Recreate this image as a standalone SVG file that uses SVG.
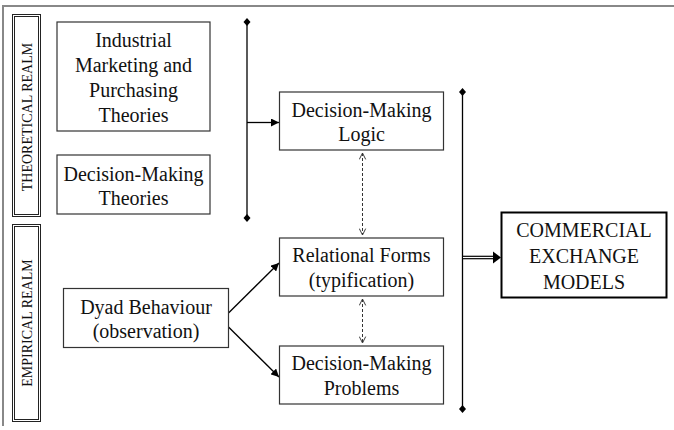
<svg xmlns="http://www.w3.org/2000/svg" width="674" height="430" viewBox="0 0 674 430">
  <style>
    .box { fill: #fff; stroke: #333; stroke-width: 1.2; }
    .bold { fill: #fff; stroke: #000; stroke-width: 2; }
    .realm { fill: none; stroke: #222; stroke-width: 1; }
    .frame { fill: none; stroke: #888; stroke-width: 2; }
    text { font-family: "Liberation Serif", "DejaVu Serif", serif; fill: #111; text-anchor: middle; }
    .lbl { font-size: 20px; }
    .rlbl { font-size: 14px; }
    .line { stroke: #000; stroke-width: 1.3; fill: none; }
    .dash { stroke: #333; stroke-width: 1; stroke-dasharray: 3 2; fill: none; }
    .dot { fill: #000; }
  </style>
  <defs>
    <marker id="tri" viewBox="0 0 10 10" refX="10" refY="5" markerWidth="8" markerHeight="8" markerUnits="userSpaceOnUse" orient="auto">
      <path d="M0,0 L10,5 L0,10 Z" fill="#000"/>
    </marker>
    <marker id="vee" viewBox="0 0 10 10" refX="9" refY="5" markerWidth="8" markerHeight="8" markerUnits="userSpaceOnUse" orient="auto-start-reverse">
      <path d="M1,1 L9,5 L1,9" fill="none" stroke="#333" stroke-width="1.2"/>
    </marker>
    <path id="diamond" d="M0,-4 L3.5,0 L0,4 L-3.5,0 Z"/>
  </defs>

  <!-- page frame -->
  <path class="frame" d="M3,426 L3,6 L674,6"/>

  <!-- realm side labels -->
  <g id="theoretical-realm">
    <rect class="realm" x="12.5" y="14.5" width="28" height="202"/>
    <rect class="realm" x="14.5" y="16.5" width="24" height="198"/>
    <text class="rlbl" font-family="Liberation Serif, serif" transform="translate(32,117) rotate(-90)">THEORETICAL REALM</text>
  </g>
  <g id="empirical-realm">
    <rect class="realm" x="12.5" y="224.5" width="28" height="197"/>
    <rect class="realm" x="14.5" y="226.5" width="24" height="193"/>
    <text class="rlbl" font-family="Liberation Serif, serif" transform="translate(32,323) rotate(-90)">EMPIRICAL REALM</text>
  </g>

  <!-- connectors -->
  <g id="connectors">
    <!-- bracket joining the theory boxes -->
    <line class="line" x1="247" y1="22" x2="247" y2="218"/>
    <use href="#diamond" x="247" y="22" class="dot"/>
    <use href="#diamond" x="247" y="218" class="dot"/>
    <line class="line" x1="247" y1="122.5" x2="279" y2="122.5" marker-end="url(#tri)"/>

    <!-- dashed two-way links -->
    <line class="dash" x1="362.5" y1="153" x2="362.5" y2="235" marker-start="url(#vee)" marker-end="url(#vee)"/>
    <line class="dash" x1="362.5" y1="299" x2="362.5" y2="343" marker-start="url(#vee)" marker-end="url(#vee)"/>

    <!-- dyad behaviour arrows -->
    <line class="line" x1="228.5" y1="313" x2="279" y2="263" marker-end="url(#tri)"/>
    <line class="line" x1="228.5" y1="327" x2="279" y2="377" marker-end="url(#tri)"/>

    <!-- bracket joining the middle column -->
    <line class="line" x1="462.5" y1="92" x2="462.5" y2="409"/>
    <use href="#diamond" x="462.5" y="92" class="dot"/>
    <use href="#diamond" x="462.5" y="409" class="dot"/>

    <!-- double-line arrow to the result -->
    <line x1="463" y1="257.5" x2="494" y2="257.5" stroke="#000" stroke-width="3.6"/>
    <line x1="463" y1="257.5" x2="494" y2="257.5" stroke="#fff" stroke-width="1.2"/>
    <path d="M493,251.5 L501,257.5 L493,263.5 Z" fill="#000"/>
  </g>

  <!-- theory boxes -->
  <g id="industrial-marketing">
    <rect class="box" x="57" y="22" width="153" height="109"/>
    <text class="lbl" font-family="Liberation Serif, serif" x="133.5" y="46.5">Industrial</text>
    <text class="lbl" font-family="Liberation Serif, serif" x="133.5" y="71.5">Marketing and</text>
    <text class="lbl" font-family="Liberation Serif, serif" x="133.5" y="96.5">Purchasing</text>
    <text class="lbl" font-family="Liberation Serif, serif" x="133.5" y="121.5">Theories</text>
  </g>
  <g id="decision-theories">
    <rect class="box" x="57" y="155" width="153" height="59"/>
    <text class="lbl" font-family="Liberation Serif, serif" x="133.5" y="181">Decision-Making</text>
    <text class="lbl" font-family="Liberation Serif, serif" x="133.5" y="205">Theories</text>
  </g>

  <!-- middle column -->
  <g id="decision-logic">
    <rect class="box" x="279.5" y="92" width="164" height="58"/>
    <text class="lbl" font-family="Liberation Serif, serif" x="361.5" y="117">Decision-Making</text>
    <text class="lbl" font-family="Liberation Serif, serif" x="361.5" y="141">Logic</text>
  </g>
  <g id="relational-forms">
    <rect class="box" x="279.5" y="238" width="164" height="58"/>
    <text class="lbl" font-family="Liberation Serif, serif" x="361.5" y="262">Relational Forms</text>
    <text class="lbl" font-family="Liberation Serif, serif" x="361.5" y="286.5">(typification)</text>
  </g>
  <g id="decision-problems">
    <rect class="box" x="279.5" y="346" width="164" height="58"/>
    <text class="lbl" font-family="Liberation Serif, serif" x="361.5" y="370">Decision-Making</text>
    <text class="lbl" font-family="Liberation Serif, serif" x="361.5" y="395">Problems</text>
  </g>

  <!-- observation source -->
  <g id="dyad-behaviour">
    <rect class="box" x="63.5" y="288.5" width="165" height="59"/>
    <text class="lbl" font-family="Liberation Serif, serif" x="146" y="313.5">Dyad Behaviour</text>
    <text class="lbl" font-family="Liberation Serif, serif" x="146" y="338">(observation)</text>
  </g>

  <!-- result -->
  <g id="commercial-exchange-models">
    <rect class="bold" x="501.5" y="212.5" width="165" height="85"/>
    <text class="lbl" font-family="Liberation Serif, serif" x="584" y="237">COMMERCIAL</text>
    <text class="lbl" font-family="Liberation Serif, serif" x="584" y="263">EXCHANGE</text>
    <text class="lbl" font-family="Liberation Serif, serif" x="584" y="288.5">MODELS</text>
  </g>
</svg>
